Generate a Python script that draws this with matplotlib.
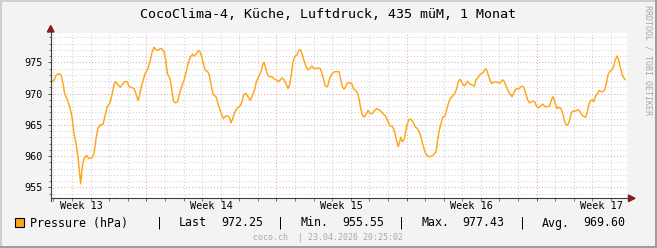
import matplotlib
matplotlib.use("Agg")
import matplotlib.pyplot as plt
from matplotlib.patches import Polygon, Rectangle
from matplotlib.lines import Line2D

# ---------------- data ----------------
title = "CocoClima-4, Küche, Luftdruck, 435 müM, 1 Monat"
series_name = "Pressure (hPa)"
stat_names = ["Last", "Min.", "Max.", "Avg."]
stat_values = ["972.25", "955.55", "977.43", "969.60"]
week_labels = ["Week 13", "Week 14", "Week 15", "Week 16", "Week 17"]
watermark = "coco.ch  | 23.04.2026 20:25:02"
side_text = "RRDTOOL / TOBI OETIKER"
start_hour = 20 + 25 / 60.0   # graph starts Mon 23.03.2026 20:25
span_days = 31.0

days = [0.000, 0.178, 0.303, 0.447, 0.572, 0.662, 0.752, 0.895, 1.021, 1.146,
        1.254, 1.362, 1.469, 1.559, 1.613, 1.703, 1.792, 1.936, 2.043, 2.223,
        2.330, 2.456, 2.546, 2.689, 2.815, 2.940, 3.048, 3.174, 3.299, 3.407,
        3.497, 3.622, 3.748, 3.855, 3.981, 4.125, 4.214, 4.340, 4.483, 4.609,
        4.699, 4.788, 4.878, 5.004,
        5.075, 5.219, 5.344, 5.434, 5.560, 5.667, 5.793, 5.883, 5.972, 6.098,
        6.188, 6.277, 6.421, 6.511, 6.600, 6.726, 6.834, 6.959, 7.085, 7.192,
        7.318, 7.408, 7.533, 7.641, 7.731, 7.856, 7.946, 8.035, 8.125, 8.215,
        8.305, 8.448, 8.538, 8.628, 8.753, 8.897, 9.022, 9.166, 9.291, 9.417,
        9.525, 9.614, 9.704, 9.794, 9.919, 10.045, 10.188,
        10.296, 10.386, 10.511, 10.619, 10.745, 10.870, 10.978, 11.067, 11.193, 11.319,
        11.408, 11.480, 11.552, 11.642, 11.767, 11.911, 12.000, 12.144, 12.270, 12.359,
        12.449, 12.557, 12.664, 12.772, 12.862, 12.951, 13.041, 13.131, 13.256, 13.346,
        13.436, 13.525, 13.615, 13.741, 13.848, 13.938, 14.064, 14.153, 14.279, 14.387,
        14.512, 14.602, 14.692, 14.781, 14.907, 14.997, 15.140, 15.283, 15.409,
        15.517, 15.607, 15.696, 15.786, 15.876, 15.965, 16.091, 16.199, 16.288, 16.378,
        16.503, 16.593, 16.683, 16.773, 16.862, 16.952, 17.077, 17.185, 17.311, 17.436,
        17.544, 17.670, 17.795, 17.903, 18.029, 18.118, 18.244, 18.387, 18.477, 18.566,
        18.656, 18.710, 18.782, 18.836, 18.925, 19.015, 19.104, 19.194, 19.284, 19.374,
        19.499, 19.607, 19.733, 19.822, 19.912, 20.002, 20.091, 20.181, 20.271, 20.397,
        20.504, 20.630,
        20.737, 20.827, 20.917, 21.006, 21.096, 21.222, 21.311, 21.401, 21.509, 21.634,
        21.760, 21.850, 21.939, 22.029, 22.137, 22.262, 22.352, 22.442, 22.531, 22.657,
        22.800, 22.890, 23.016, 23.123, 23.249, 23.339, 23.429, 23.518, 23.608, 23.733,
        23.841, 23.967, 24.092, 24.200, 24.326, 24.415, 24.505, 24.595, 24.720, 24.828,
        24.953, 25.043, 25.169, 25.276, 25.402, 25.492, 25.581, 25.671, 25.761, 25.886,
        25.958, 26.048, 26.137, 26.227, 26.353, 26.496, 26.604, 26.711, 26.855, 26.945,
        27.035, 27.124, 27.250, 27.357, 27.465, 27.573, 27.663, 27.752, 27.842, 27.932,
        28.022, 28.147, 28.255, 28.380, 28.470, 28.560, 28.649, 28.775, 28.864, 28.954,
        29.044, 29.133, 29.223, 29.313, 29.420, 29.510, 29.636, 29.725, 29.815, 29.905,
        29.995, 30.084, 30.210, 30.300, 30.389, 30.479, 30.551, 30.623, 30.712, 30.802,
        30.910]

pressure = [971.75, 972.1, 973.0, 973.2, 972.9, 971.6, 970.0, 969.0, 967.9, 966.3,
            963.6, 962.0, 959.9, 957.2, 955.55, 958.3, 959.6, 960.1, 959.6, 959.7,
            960.4, 963.1, 964.5, 965.0, 965.1, 966.6, 967.9, 968.4, 969.8, 971.4,
            971.9, 971.4, 971.0, 971.5, 971.9, 971.9, 971.1, 971.0, 970.8, 969.8,
            968.9, 969.8, 971.1, 972.4,
            973.2, 973.9, 975.1, 976.4, 977.43, 977.0, 976.9, 977.2, 977.2, 976.7,
            975.4, 973.2, 972.4, 970.8, 968.8, 968.5, 968.7, 970.3, 971.4, 972.3,
            973.8, 975.0, 975.9, 976.3, 976.0, 976.4, 976.9, 976.7, 975.9, 974.8,
            973.8, 973.5, 973.0, 971.4, 969.8, 969.5, 968.2, 966.9, 966.0, 966.4,
            966.4, 966.2, 965.3, 966.0, 967.1, 967.7, 968.0,
            968.7, 969.8, 970.0, 969.5, 968.9, 969.8, 970.6, 971.9, 972.7, 973.5,
            974.6, 975.0, 974.3, 973.2, 972.7, 972.7, 972.4, 972.2, 971.9, 972.2,
            972.5, 972.2, 971.6, 970.8, 971.4, 973.0, 975.1, 975.9, 976.2, 976.9,
            977.0, 976.4, 975.4, 974.3, 973.8, 974.0, 974.4, 974.0, 974.0, 974.1,
            974.0, 973.2, 972.2, 971.2, 971.1, 972.3, 973.2, 973.5, 973.5,
            973.5, 972.2, 971.1, 970.7, 971.1, 971.7, 971.7, 971.6, 970.8, 970.6,
            970.1, 969.2, 967.6, 966.6, 966.2, 966.6, 967.3, 966.8, 966.8, 967.3,
            967.6, 967.4, 967.1, 966.7, 966.4, 965.8, 964.9, 964.7, 964.2, 963.1,
            962.0, 961.5, 962.3, 963.0, 962.3, 962.6, 963.9, 965.2, 965.8, 965.9,
            965.5, 964.7, 964.4, 963.9, 963.2, 962.1, 961.2, 960.4, 960.0, 959.9,
            960.0, 960.3,
            960.7, 962.6, 964.2, 965.2, 966.2, 966.4, 967.4, 968.4, 969.2, 969.6,
            970.1, 970.8, 971.9, 972.3, 971.7, 971.2, 971.6, 972.0, 971.6, 971.4,
            971.2, 972.2, 972.6, 973.1, 973.3, 973.7, 974.0, 973.3, 972.4, 971.6,
            971.8, 971.9, 971.7, 971.7, 972.2, 971.9, 971.2, 970.6, 969.9, 969.5,
            970.3, 970.8, 970.7, 971.0, 971.2, 970.8, 969.8, 969.0, 968.5, 968.7,
            968.8, 968.7, 968.0, 967.7, 968.0, 968.3, 967.9, 967.9, 968.0, 969.0,
            969.5, 968.7, 967.6, 967.8, 967.6, 966.6, 965.5, 965.0, 965.0, 965.8,
            967.0, 967.2, 967.2, 967.4, 967.2, 966.7, 966.4, 966.2, 966.8, 968.2,
            968.8, 969.0, 968.7, 969.5, 970.0, 970.5, 970.3, 970.3, 970.6, 971.6,
            973.0, 973.5, 973.8, 974.4, 975.4, 976.0, 975.6, 974.6, 973.5, 972.7,
            972.25]

y_major = [955, 960, 965, 970, 975]
y_min, y_max = 953.24, 979.77

# ---------------- layout ----------------
W, H = 657, 248
fig = plt.figure(figsize=(W / 100, H / 100), dpi=100)
fig.patch.set_facecolor("#F3F3F3")

def fx(x):
    return x / W

def fy(y):
    return 1 - y / H

L, R, T, B = 50.7, 626.7, 32.5, 198.3
ax = fig.add_axes([fx(L), fy(B), (R - L) / W, (B - T) / H])
ax.set_facecolor("white")
ax.set_xlim(0, span_days)
ax.set_ylim(y_min, y_max)
for s in ax.spines.values():
    s.set_visible(False)

mono = "DejaVu Sans Mono"
first_mid = (24 - start_hour) / 24.0
day_lines = [first_mid + k for k in range(int(span_days) + 1) if first_mid + k < span_days]
week_major = [d for d in day_lines if abs(((d - first_mid) - 5) % 7) < 1e-6]
label_pos = [first_mid + 1.5 + 7 * k for k in range(len(week_labels))]

dot = (0, (1, 2))
for d in day_lines:
    if d in week_major:
        continue
    ax.axvline(d, color="#D2D2D2", lw=0.75, ls=dot, zorder=1)
for v in range(int(y_min) + 1, int(y_max) + 1):
    if v in y_major:
        continue
    ax.axhline(v, color="#D2D2D2", lw=0.75, ls=dot, zorder=1)
for d in week_major:
    ax.axvline(d, color="#E8A8A8", lw=0.75, ls=dot, zorder=2)
for v in y_major:
    ax.axhline(v, color="#E8A8A8", lw=0.75, ls=dot, zorder=2)

ax.plot(days, pressure, color="#FFA51A", lw=1.05, zorder=5, solid_joinstyle="round")

ax.set_yticks(y_major)
ax.set_yticklabels([str(v) for v in y_major], fontfamily=mono, fontsize=7.3)
ax.set_yticks(list(range(int(y_min) + 1, int(y_max) + 1)), minor=True)
ax.tick_params(axis="y", which="major", length=2.2, width=0.7, color="#555555", pad=3.4)
ax.tick_params(axis="y", which="minor", length=1.4, width=0.7, color="#777777")
ax.set_xticks(week_major)
ax.set_xticks(day_lines, minor=True)
ax.set_xticklabels([])
ax.tick_params(axis="x", which="major", length=2.5, width=0.7, color="#555555")
ax.tick_params(axis="x", which="minor", length=2.0, width=0.7, color="#777777")
for lab, p in zip(week_labels, label_pos):
    ax.annotate(lab, xy=(p, 0), xycoords=("data", "axes fraction"),
                xytext=(0, -7.6), textcoords="offset pixels",
                ha="center", va="center", fontfamily=mono, fontsize=7.3)

# axis lines + arrows
fig.add_artist(Line2D([fx(L), fx(631)], [fy(B), fy(B)], color="#404040", lw=0.8))
fig.add_artist(Line2D([fx(L), fx(L)], [fy(200.5), fy(29)], color="#404040", lw=0.8))
arrow_c = "#8B1A1A"
fig.add_artist(Polygon([(fx(L - 3.3), fy(32)), (fx(L + 3.3), fy(32)), (fx(L), fy(25.5))],
                       closed=True, color=arrow_c, transform=fig.transFigure))
fig.add_artist(Polygon([(fx(628.5), fy(B - 3.3)), (fx(628.5), fy(B + 3.3)), (fx(635), fy(B))],
                       closed=True, color=arrow_c, transform=fig.transFigure))

# title
fig.text(fx(328), fy(14), title, ha="center", va="center", fontfamily=mono,
         fontsize=9.6, color="#000000")

# legend
fig.add_artist(Rectangle((fx(15), fy(227.3)), 9 / W, 9 / H, transform=fig.transFigure,
                         facecolor="#FFA51A", edgecolor="black", lw=0.8))
leg_y = fy(223)
fig.text(fx(30.2), leg_y, series_name, ha="left", va="center", fontfamily=mono, fontsize=8.4)
bar_x = [159.3, 280.0, 401.7, 522.7]
name_x = [179.3, 301.0, 421.7, 542.7]
val_x = [221.7, 342.7, 463.3, 584.3]
for bx, nx, vx, nm, vl in zip(bar_x, name_x, val_x, stat_names, stat_values):
    fig.text(fx(bx), leg_y, "|", ha="center", va="center", fontfamily=mono, fontsize=8.4)
    fig.text(fx(nx - 0.6), leg_y, nm, ha="left", va="center", fontfamily=mono, fontsize=8.4)
    fig.text(fx(vx - 0.6), leg_y, vl, ha="left", va="center", fontfamily=mono, fontsize=8.4)

# watermark and side text
fig.text(fx(328.3), fy(237.3), watermark, ha="center", va="center", fontfamily=mono,
         fontsize=6.0, color="#A8A8A8")
fig.text(fx(648.3), fy(60), side_text, ha="center", va="center", fontfamily=mono,
         fontsize=6.0, color="#A8A8A8", rotation=270)

# frame shading
fig.add_artist(Rectangle((0, 0), 2 / W, 1, transform=fig.transFigure, color="#CFCFCF", lw=0))
fig.add_artist(Rectangle((0, 1 - 2 / H), 1, 2 / H, transform=fig.transFigure, color="#CFCFCF", lw=0))
fig.add_artist(Rectangle((1 - 2 / W, 0), 2 / W, 1, transform=fig.transFigure, color="#9E9E9E", lw=0))
fig.add_artist(Rectangle((0, 0), 1, 2 / H, transform=fig.transFigure, color="#9E9E9E", lw=0))

fig.savefig("out.png", dpi=100, facecolor=fig.get_facecolor())
